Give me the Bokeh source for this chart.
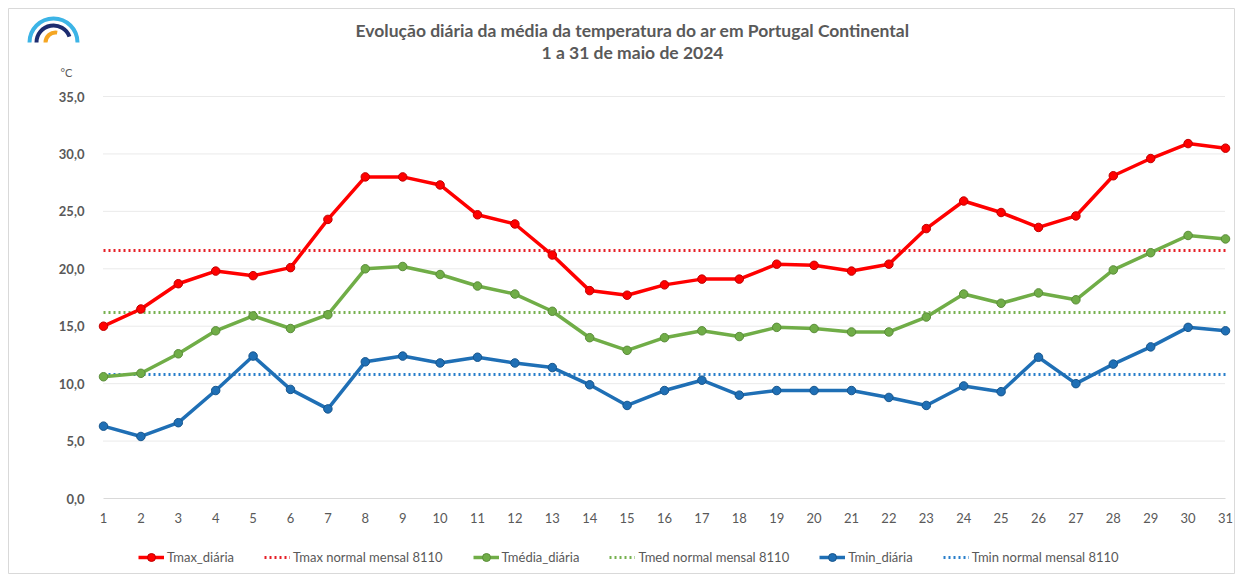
from bokeh.plotting import figure
from bokeh.models import (Legend, LegendItem, FixedTicker, Label)
from bokeh.embed import file_html
from bokeh.resources import INLINE
import math

days = list(range(1, 32))
tmax = [15.0, 16.5, 18.7, 19.8, 19.4, 20.1, 24.3, 28.0, 28.0, 27.3, 24.7, 23.9, 21.2, 18.1, 17.7, 18.6,
        19.1, 19.1, 20.4, 20.3, 19.8, 20.4, 23.5, 25.9, 24.9, 23.6, 24.6, 28.1, 29.6, 30.9, 30.5]
tmed = [10.6, 10.9, 12.6, 14.6, 15.9, 14.8, 16.0, 20.0, 20.2, 19.5, 18.5, 17.8, 16.3, 14.0, 12.9, 14.0,
        14.6, 14.1, 14.9, 14.8, 14.5, 14.5, 15.8, 17.8, 17.0, 17.9, 17.3, 19.9, 21.4, 22.9, 22.6]
tmin = [6.3, 5.4, 6.6, 9.4, 12.4, 9.5, 7.8, 11.9, 12.4, 11.8, 12.3, 11.8, 11.4, 9.9, 8.1, 9.4,
        10.3, 9.0, 9.4, 9.4, 9.4, 8.8, 8.1, 9.8, 9.3, 12.3, 10.0, 11.7, 13.2, 14.9, 14.6]
tmax_normal = 21.6
tmed_normal = 16.2
tmin_normal = 10.8
y_ticks = [0, 5, 10, 15, 20, 25, 30, 35]
series_names = ["Tmax_diária", "Tmax normal mensal 8110", "Tmédia_diária",
                "Tmed normal mensal 8110", "Tmin_diária", "Tmin normal mensal 8110"]
title_line1 = "Evolução diária da média da temperatura do ar em Portugal Continental"
title_line2 = "1 a 31 de maio de 2024"
unit_label = "°C"

FONT = "Lato"
TXT = "#595959"
RED, GREEN, BLUE = "#ff0000", "#70ad47", "#1f6fb5"

# ---- layout (canvas pixels) ----
W, H = 1235, 574
BOX_L, BOX_T = 8, 8             # frame (bordered box) starts here
PLOT_L, PLOT_R = 103, 1225      # canvas x of first / last day
PLOT_T, PLOT_B = 96, 498        # canvas y of top tick / zero

sx = (PLOT_R - PLOT_L) / (days[-1] - days[0])
sy = (PLOT_B - PLOT_T) / (y_ticks[-1] - y_ticks[0])
x0 = days[0] - (PLOT_L - BOX_L) / sx
x1 = days[-1] + (W - PLOT_R) / sx
y0 = y_ticks[0] - (H - PLOT_B) / sy
y1 = y_ticks[-1] + (PLOT_T - BOX_T) / sy

def px2x(cx):
    return days[0] + (cx - PLOT_L) / sx

def px2y(cy):
    return y_ticks[0] + (PLOT_B - cy) / sy

p = figure(width=W, height=H, output_backend="svg", toolbar_location=None,
           x_range=(x0, x1), y_range=(y0, y1),
           min_border_left=BOX_L, min_border_right=0, min_border_bottom=0, min_border_top=BOX_T)

p.outline_line_color = "#d9d9d9"
p.outline_line_width = 1
p.background_fill_color = "white"
p.border_fill_color = "white"
p.grid.visible = False

# gridlines (dotted), limited to the day span
gy = y_ticks[1:]
p.segment(x0=[days[0]] * len(gy), x1=[days[-1]] * len(gy), y0=gy, y1=gy,
          line_color="#d4d4d4", line_width=1, line_dash="1 1")

p.yaxis.fixed_location = days[0]
p.yaxis.ticker = FixedTicker(ticks=y_ticks)
p.yaxis.bounds = (y_ticks[0], y_ticks[-1])
p.yaxis.major_label_overrides = {v: f"{v:.1f}".replace(".", ",") for v in y_ticks}
p.yaxis.axis_line_color = None
p.yaxis.major_tick_line_color = None
p.yaxis.minor_tick_line_color = None
p.yaxis.major_label_text_font = FONT
p.yaxis.major_label_text_font_size = "13px"
p.yaxis.major_label_text_font_style = "bold"
p.yaxis.major_label_text_color = TXT
p.yaxis.major_label_standoff = 13

p.xaxis.fixed_location = y_ticks[0]
p.xaxis.ticker = FixedTicker(ticks=days)
p.xaxis.bounds = (days[0], days[-1])
p.xaxis.axis_line_color = "#d9d9d9"
p.xaxis.major_tick_line_color = None
p.xaxis.minor_tick_line_color = None
p.xaxis.major_label_text_font = FONT
p.xaxis.major_label_text_font_size = "13px"
p.xaxis.major_label_text_color = TXT
p.xaxis.major_label_standoff = 8

def normal_line(val, color):
    return p.line(days, [val] * len(days), line_color=color, line_width=3,
                  line_dash="2 3", line_alpha=0.95)

def daily(vals, color, edge):
    r1 = p.line(days, vals, line_color=color, line_width=3.5, line_join="round")
    r2 = p.scatter(days, vals, size=8.5, fill_color=color, line_color=edge, line_width=1)
    return [r1, r2]

nmax = normal_line(tmax_normal, "#e5141c")
nmed = normal_line(tmed_normal, "#70ad47")
nmin = normal_line(tmin_normal, "#1f78c8")
dmin = daily(tmin, BLUE, "#17558c")
dmed = daily(tmed, GREEN, "#5a8c39")
dmax = daily(tmax, RED, "#c00000")

items = [LegendItem(label=series_names[0], renderers=dmax),
         LegendItem(label=series_names[1], renderers=[nmax]),
         LegendItem(label=series_names[2], renderers=dmed),
         LegendItem(label=series_names[3], renderers=[nmed]),
         LegendItem(label=series_names[4], renderers=dmin),
         LegendItem(label=series_names[5], renderers=[nmin])]
# legend location: bottom-left corner, measured from the frame's bottom-left
legend = Legend(items=items, orientation="horizontal",
                location=(144 - BOX_L - 6, H - 567),
                label_text_font=FONT, label_text_font_size="13px", label_text_color=TXT,
                glyph_width=26, label_standoff=3, spacing=30, border_line_color=None,
                background_fill_alpha=0, margin=0, padding=6)
p.add_layout(legend)

# titles
for txt, cy in [(title_line1, 30), (title_line2, 52)]:
    p.add_layout(Label(x=px2x(632), y=px2y(cy), text=txt, text_font=FONT,
                       text_font_size="17.5px", text_font_style="bold", text_color=TXT,
                       text_align="center", text_baseline="middle"))

p.add_layout(Label(x=px2x(60), y=px2y(72), text=unit_label, text_font=FONT,
                   text_font_size="11px", text_color=TXT, text_align="left",
                   text_baseline="middle"))

# logo (decorative arcs)
lx, ly = px2x(53), px2y(42)
p.arc(x=[lx], y=[ly], radius=24, radius_units="screen", start_angle=0, end_angle=math.pi,
      line_color="#3cb4e6", line_width=4)
p.arc(x=[lx], y=[ly], radius=17, radius_units="screen", start_angle=0.35, end_angle=math.pi,
      line_color="#1c2c70", line_width=4)
p.arc(x=[px2x(55)], y=[ly], radius=10, radius_units="screen", start_angle=1.4, end_angle=math.pi,
      line_color="#f5a623", line_width=4)

open("out.html", "w").write(file_html(p, INLINE))
